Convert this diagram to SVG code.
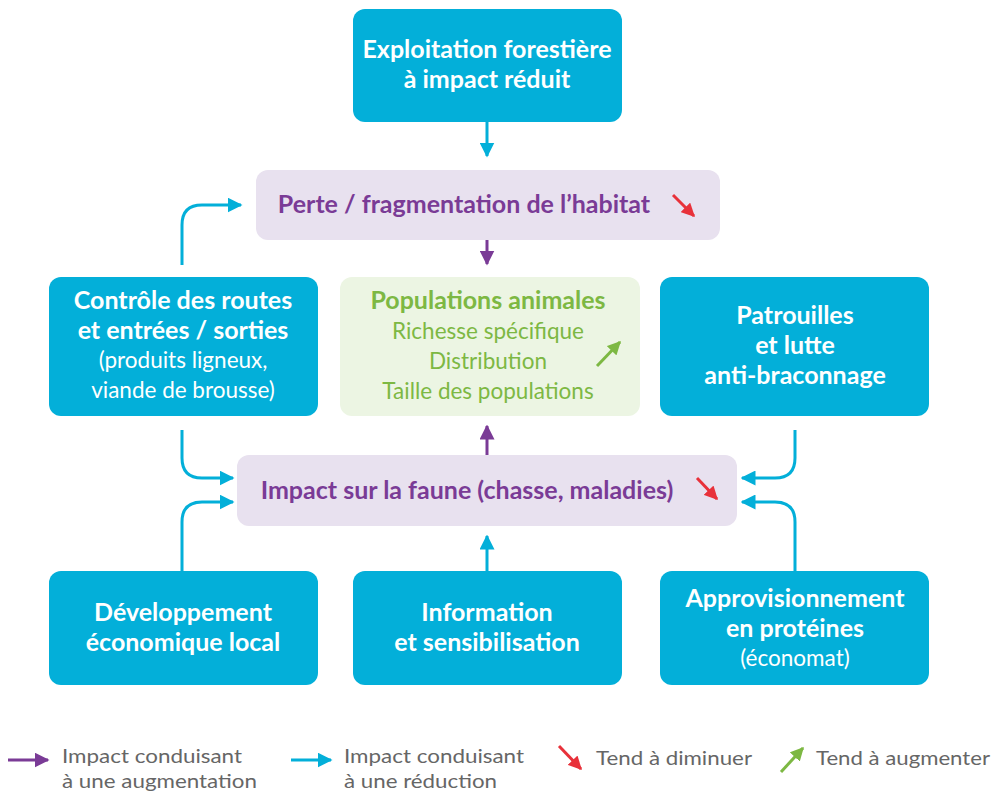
<svg xmlns="http://www.w3.org/2000/svg" width="994" height="791" viewBox="0 0 994 791">
<style>
text{font-family:Lato,"Open Sans","Liberation Sans",sans-serif;text-anchor:middle}
.bx{fill:#03afd9}
.lav{fill:#e8e1ef}
.grn{fill:#ecf5e3}
.w{fill:#fff;font-size:25px;font-weight:bold}
.wn{fill:#fff;font-size:22.5px}
.p{fill:#7a3b96;font-size:25px;font-weight:bold}
.g{fill:#7db843;font-size:22.5px}
.gb{fill:#7db843;font-size:25px;font-weight:bold}
.lg{fill:#666;font-size:20px;text-anchor:start}
.cy{stroke:#03afd9;stroke-width:3;fill:none}
.pu{stroke:#7a3b96;stroke-width:3;fill:none}
.rd{stroke:#e8313a;stroke-width:3;fill:none}
.gr{stroke:#7db843;stroke-width:3;fill:none}
</style>
<defs>
<marker id="mc" viewBox="0 0 10 10" refX="9" refY="5" markerWidth="5" markerHeight="5" markerUnits="strokeWidth" orient="auto"><path d="M0 0L10 5L0 10z" fill="#03afd9"/></marker>
<marker id="mp" viewBox="0 0 10 10" refX="9" refY="5" markerWidth="5" markerHeight="5" markerUnits="strokeWidth" orient="auto"><path d="M0 0L10 5L0 10z" fill="#7a3b96"/></marker>
<marker id="mr" viewBox="0 0 10 10" refX="9" refY="5" markerWidth="4.5" markerHeight="4.5" markerUnits="strokeWidth" orient="auto"><path d="M0 0L10 5L0 10z" fill="#e8313a"/></marker>
<marker id="mg" viewBox="0 0 10 10" refX="9" refY="5" markerWidth="4.5" markerHeight="4.5" markerUnits="strokeWidth" orient="auto"><path d="M0 0L10 5L0 10z" fill="#7db843"/></marker>
</defs>

<g id="connectors">
<path class="cy" d="M487 122V156" marker-end="url(#mc)"/>
<path class="pu" d="M487 228V264" marker-end="url(#mp)"/>
<path class="pu" d="M487 461V426" marker-end="url(#mp)"/>
<path class="cy" d="M487 571V536" marker-end="url(#mc)"/>
<path class="cy" d="M182 265V225Q182 205 202 205H241" marker-end="url(#mc)"/>
<path class="cy" d="M182 430V458Q182 478 202 478H233" marker-end="url(#mc)"/>
<path class="cy" d="M182 571V522Q182 502 202 502H233" marker-end="url(#mc)"/>
<path class="cy" d="M795 430V458Q795 478 775 478H742" marker-end="url(#mc)"/>
<path class="cy" d="M795 571V522Q795 502 775 502H742" marker-end="url(#mc)"/>
</g>

<g id="n-exploitation">
<rect class="bx" x="353" y="9" width="269" height="113" rx="12"/>
<text class="w" x="487" y="58">Exploitation forestière</text>
<text class="w" x="487" y="88">à impact réduit</text>
</g>

<g id="n-perte">
<rect class="lav" x="256" y="170" width="464" height="70" rx="12"/>
<text class="p" x="464" y="213">Perte / fragmentation de l’habitat</text>
<path class="rd" d="M673 195L694 216" marker-end="url(#mr)"/>
</g>

<g id="n-controle">
<rect class="bx" x="49" y="277" width="269" height="139" rx="12"/>
<text class="w" x="183" y="309">Contrôle des routes</text>
<text class="w" x="183" y="339">et entrées / sorties</text>
<text class="wn" x="183" y="368">(produits ligneux,</text>
<text class="wn" x="183" y="398">viande de brousse)</text>
</g>

<g id="n-populations">
<rect class="grn" x="340" y="277" width="300" height="139" rx="12"/>
<text class="gb" x="488" y="309">Populations animales</text>
<text class="g" x="488" y="339">Richesse spécifique</text>
<text class="g" x="488" y="369">Distribution</text>
<text class="g" x="488" y="399">Taille des populations</text>
<path class="gr" d="M597 366L620 342" marker-end="url(#mg)"/>
</g>

<g id="n-patrouilles">
<rect class="bx" x="660" y="277" width="269" height="139" rx="12"/>
<text class="w" x="795" y="324">Patrouilles</text>
<text class="w" x="795" y="354">et lutte</text>
<text class="w" x="795" y="384">anti-braconnage</text>
</g>

<g id="n-impact">
<rect class="lav" x="237" y="455" width="500" height="71" rx="12"/>
<text class="p" x="467" y="499">Impact sur la faune (chasse, maladies)</text>
<path class="rd" d="M697 478L717 499" marker-end="url(#mr)"/>
</g>

<g id="n-developpement">
<rect class="bx" x="49" y="571" width="269" height="114" rx="12"/>
<text class="w" x="183" y="621">Développement</text>
<text class="w" x="183" y="651">économique local</text>
</g>

<g id="n-information">
<rect class="bx" x="353" y="571" width="269" height="114" rx="12"/>
<text class="w" x="487" y="621">Information</text>
<text class="w" x="487" y="651">et sensibilisation</text>
</g>

<g id="n-approvisionnement">
<rect class="bx" x="660" y="571" width="269" height="114" rx="12"/>
<text class="w" x="795" y="607">Approvisionnement</text>
<text class="w" x="795" y="637">en protéines</text>
<text class="wn" x="795" y="666">(économat)</text>
</g>

<g id="legend">
<path class="pu" d="M8 760H48" marker-end="url(#mp)"/>
<text class="lg" x="62" y="763" textLength="180" lengthAdjust="spacingAndGlyphs">Impact conduisant</text>
<text class="lg" x="62" y="788" textLength="195" lengthAdjust="spacingAndGlyphs">à une augmentation</text>
<path class="cy" d="M291 760H331" marker-end="url(#mc)"/>
<text class="lg" x="344" y="763" textLength="180" lengthAdjust="spacingAndGlyphs">Impact conduisant</text>
<text class="lg" x="344" y="788" textLength="153" lengthAdjust="spacingAndGlyphs">à une réduction</text>
<path class="rd" d="M559 746L581 769" marker-end="url(#mr)"/>
<text class="lg" x="596" y="765" textLength="156" lengthAdjust="spacingAndGlyphs">Tend à diminuer</text>
<path class="gr" d="M781 772L803 748" marker-end="url(#mg)"/>
<text class="lg" x="816" y="765" textLength="174" lengthAdjust="spacingAndGlyphs">Tend à augmenter</text>
</g>
</svg>
